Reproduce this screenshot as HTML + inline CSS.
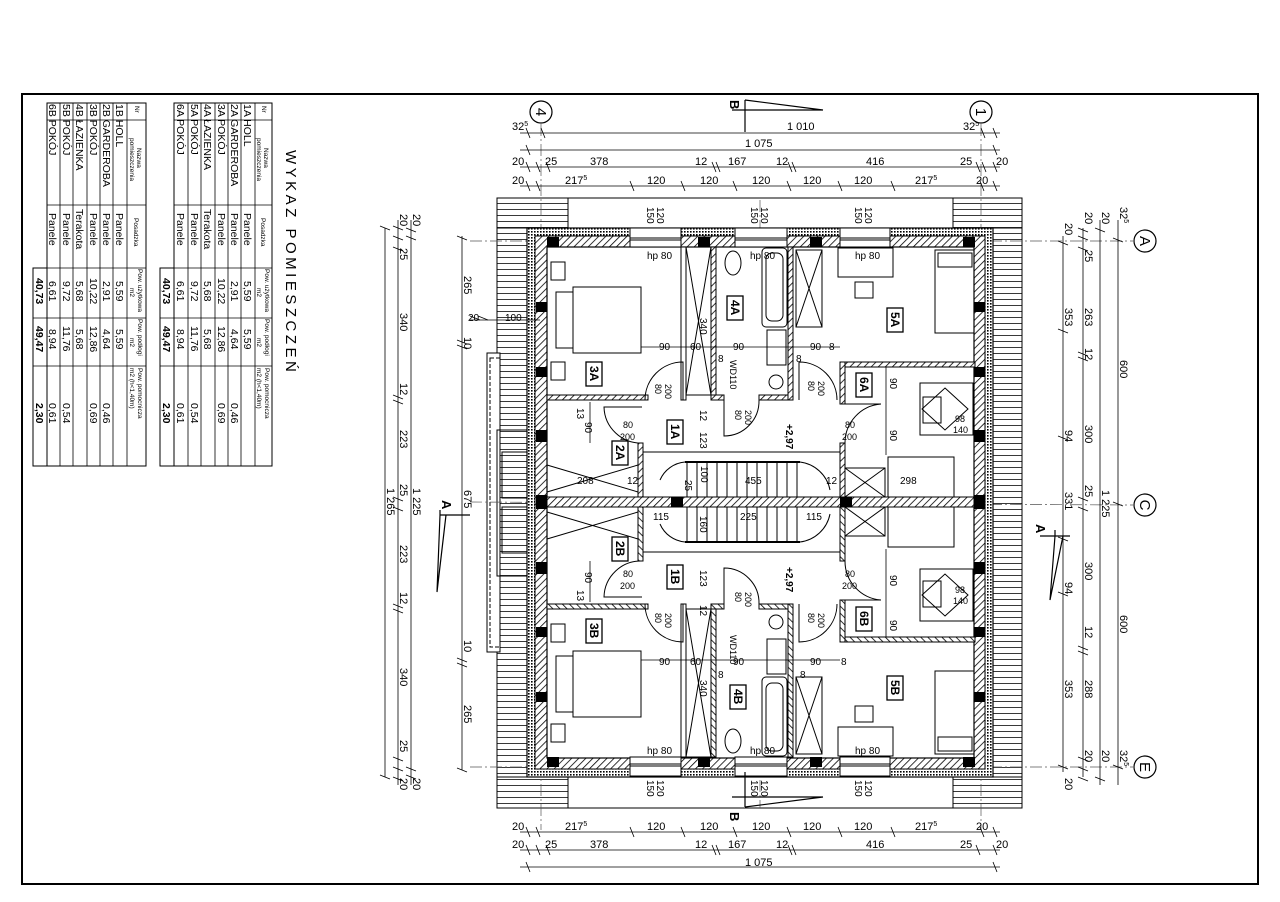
<!DOCTYPE html>
<html><head><meta charset="utf-8"><style>
html,body{margin:0;padding:0;background:#fff;}
svg{display:block;font-family:"Liberation Sans",sans-serif;}
</style></head><body>
<svg width="1280" height="902" viewBox="0 0 1280 902" xmlns="http://www.w3.org/2000/svg">
<defs>
<pattern id="h" width="5" height="5" patternUnits="userSpaceOnUse" patternTransform="rotate(45)"><rect width="5" height="5" fill="#fff"/><line x1="0" y1="0" x2="0" y2="5" stroke="#000" stroke-width="1.6"/></pattern>
<pattern id="r" width="6" height="6" patternUnits="userSpaceOnUse"><rect width="6" height="6" fill="#fff"/><line x1="0" y1="5.5" x2="6" y2="5.5" stroke="#222" stroke-width="0.9"/></pattern>
<pattern id="rv" width="6" height="6" patternUnits="userSpaceOnUse"><rect width="6" height="6" fill="#fff"/><line x1="5.5" y1="0" x2="5.5" y2="6" stroke="#222" stroke-width="0.9"/></pattern>
<pattern id="d" width="3" height="3" patternUnits="userSpaceOnUse"><rect width="3" height="3" fill="#fff"/><rect width="1.6" height="1.6" fill="#000"/></pattern>
</defs>
<rect width="1280" height="902" fill="#fff"/>
<rect x="22" y="94" width="1236" height="790" fill="none" stroke="#000" stroke-width="2"/>

<!-- TITLE -->
<text transform="translate(286,150) rotate(90)" font-size="15" letter-spacing="3.5">WYKAZ POMIESZCZEŃ</text>

<!-- TABLE A -->
<g transform="translate(272,103) rotate(90)" font-size="10.5">
<rect x="0" y="0" width="363" height="98" fill="none" stroke="#000"/>
<rect x="165" y="98" width="198" height="14" fill="none" stroke="#000"/>
<g stroke="#000" stroke-width="0.8">
<line x1="0" y1="17" x2="363" y2="17"/><line x1="0" y1="31" x2="363" y2="31"/><line x1="0" y1="44" x2="363" y2="44"/><line x1="0" y1="57" x2="363" y2="57"/><line x1="0" y1="71" x2="363" y2="71"/><line x1="0" y1="84" x2="363" y2="84"/>
<line x1="17" y1="0" x2="17" y2="98"/><line x1="102" y1="0" x2="102" y2="98"/><line x1="165" y1="0" x2="165" y2="112"/><line x1="215" y1="0" x2="215" y2="112"/><line x1="263" y1="0" x2="263" y2="112"/>
</g>
<g font-size="6.5"><text x="3" y="10">Nr</text><text x="45" y="8">Nazwa</text><text x="35" y="15">pomieszczenia</text><text x="115" y="11">Posadzka</text><text x="166" y="7">Pow. użytkowa</text><text x="185" y="15">m2</text><text x="216" y="7">Pow. podłogi</text><text x="235" y="15">m2</text><text x="265" y="7">Pow. pomocnicza</text><text x="265" y="15">m2 (h&lt;1,40m)</text></g>
<text x="1" y="28">1A HOLL</text><text x="1" y="41">2A GARDEROBA</text><text x="1" y="54">3A POKÓJ</text><text x="1" y="68">4A ŁAZIENKA</text><text x="1" y="81">5A POKÓJ</text><text x="1" y="95">6A POKÓJ</text>
<text x="110" y="28">Panele</text><text x="110" y="41">Panele</text><text x="110" y="54">Panele</text><text x="106" y="68">Terakota</text><text x="110" y="81">Panele</text><text x="110" y="95">Panele</text>
<text x="178" y="28">5,59</text><text x="178" y="41">2,91</text><text x="175" y="54">10,22</text><text x="178" y="68">5,68</text><text x="178" y="81">9,72</text><text x="178" y="95">6,61</text>
<text x="226" y="28">5,59</text><text x="226" y="41">4,64</text><text x="223" y="54">12,86</text><text x="226" y="68">5,68</text><text x="223" y="81">11,76</text><text x="226" y="95">8,94</text>
<text x="300" y="41">0,46</text><text x="300" y="54">0,69</text><text x="300" y="81">0,54</text><text x="300" y="95">0,61</text>
<g font-weight="bold"><text x="175" y="109">40,73</text><text x="223" y="109">49,47</text><text x="300" y="109">2,30</text></g>
</g>

<!-- TABLE B -->
<g transform="translate(146,103) rotate(90)" font-size="10.5">
<rect x="0" y="0" width="363" height="99" fill="none" stroke="#000"/>
<rect x="165" y="99" width="198" height="14" fill="none" stroke="#000"/>
<g stroke="#000" stroke-width="0.8">
<line x1="0" y1="19" x2="363" y2="19"/><line x1="0" y1="33" x2="363" y2="33"/><line x1="0" y1="46" x2="363" y2="46"/><line x1="0" y1="59" x2="363" y2="59"/><line x1="0" y1="73" x2="363" y2="73"/><line x1="0" y1="86" x2="363" y2="86"/>
<line x1="17" y1="0" x2="17" y2="99"/><line x1="102" y1="0" x2="102" y2="99"/><line x1="165" y1="0" x2="165" y2="113"/><line x1="215" y1="0" x2="215" y2="113"/><line x1="263" y1="0" x2="263" y2="113"/>
</g>
<g font-size="6.5"><text x="3" y="11">Nr</text><text x="45" y="9">Nazwa</text><text x="35" y="16">pomieszczenia</text><text x="115" y="12">Posadzka</text><text x="166" y="8">Pow. użytkowa</text><text x="185" y="16">m2</text><text x="216" y="8">Pow. podłogi</text><text x="235" y="16">m2</text><text x="265" y="8">Pow. pomocnicza</text><text x="265" y="16">m2 (h&lt;1,40m)</text></g>
<text x="1" y="30">1B HOLL</text><text x="1" y="43">2B GARDEROBA</text><text x="1" y="56">3B POKÓJ</text><text x="1" y="70">4B ŁAZIENKA</text><text x="1" y="83">5B POKÓJ</text><text x="1" y="97">6B POKÓJ</text>
<text x="110" y="30">Panele</text><text x="110" y="43">Panele</text><text x="110" y="56">Panele</text><text x="106" y="70">Terakota</text><text x="110" y="83">Panele</text><text x="110" y="97">Panele</text>
<text x="178" y="30">5,59</text><text x="178" y="43">2,91</text><text x="175" y="56">10,22</text><text x="178" y="70">5,68</text><text x="178" y="83">9,72</text><text x="178" y="97">6,61</text>
<text x="226" y="30">5,59</text><text x="226" y="43">4,64</text><text x="223" y="56">12,86</text><text x="226" y="70">5,68</text><text x="223" y="83">11,76</text><text x="226" y="97">8,94</text>
<text x="300" y="43">0,46</text><text x="300" y="56">0,69</text><text x="300" y="83">0,54</text><text x="300" y="97">0,61</text>
<g font-weight="bold"><text x="175" y="110">40,73</text><text x="223" y="110">49,47</text><text x="300" y="110">2,30</text></g>
</g>

<!-- ROOF -->
<rect x="497" y="198" width="525" height="610" fill="none" stroke="#000" stroke-width="1"/>
<rect x="497" y="198" width="31" height="610" fill="url(#r)" stroke="#000"/>
<rect x="993" y="198" width="29" height="610" fill="url(#r)" stroke="#000"/>
<rect x="497" y="198" width="71" height="30" fill="url(#r)" stroke="#000"/>
<rect x="953" y="198" width="69" height="30" fill="url(#r)" stroke="#000"/>
<rect x="497" y="777" width="71" height="31" fill="url(#r)" stroke="#000"/>
<rect x="953" y="777" width="69" height="31" fill="url(#r)" stroke="#000"/>
<line x1="568" y1="198" x2="953" y2="198" stroke="#000" stroke-dasharray="5,3"/>
<line x1="568" y1="808" x2="953" y2="808" stroke="#000" stroke-dasharray="5,3"/>
<rect x="487" y="353" width="13" height="299" fill="#fff" stroke="#000"/>
<rect x="490" y="358" width="10" height="289" fill="none" stroke="#000" stroke-dasharray="4,2"/>
<rect x="497" y="430" width="38" height="146" fill="none" stroke="#000"/>
<rect x="502" y="452" width="33" height="46" fill="none" stroke="#000"/>
<rect x="502" y="507" width="33" height="46" fill="none" stroke="#000"/>

<!-- axes -->
<g stroke="#555" stroke-width="0.7" stroke-dasharray="12,3,2,3">
<line x1="541" y1="124" x2="541" y2="830"/><line x1="981" y1="124" x2="981" y2="830"/>
<line x1="760" y1="200" x2="760" y2="808"/>
<line x1="470" y1="241" x2="1133" y2="241"/><line x1="470" y1="502" x2="1133" y2="505"/><line x1="470" y1="767" x2="1133" y2="767"/>
</g>

<!-- OUTER WALL -->
<rect x="527" y="228" width="466" height="549" fill="url(#d)" stroke="#000" stroke-width="1.2"/>
<rect x="535" y="236" width="450" height="533" fill="url(#h)" stroke="#000"/>
<rect x="547" y="247" width="427" height="511" fill="#fff" stroke="#000" stroke-width="1.2"/>
<!-- middle wall -->
<rect x="547" y="497" width="427" height="10" fill="url(#h)" stroke="#000"/>

<g id="half" stroke="#000" fill="none" stroke-width="1">
<!-- windows top -->
<rect x="630" y="228" width="51" height="19" fill="#fff"/><line x1="630" y1="238" x2="681" y2="238"/><line x1="630" y1="240" x2="681" y2="240"/>
<rect x="735" y="228" width="52" height="19" fill="#fff"/><line x1="735" y1="238" x2="787" y2="238"/><line x1="735" y1="240" x2="787" y2="240"/>
<rect x="840" y="228" width="50" height="19" fill="#fff"/><line x1="840" y1="238" x2="890" y2="238"/><line x1="840" y1="240" x2="890" y2="240"/>
<!-- columns -->
<g fill="#000" stroke="none">
<rect x="547" y="237" width="12" height="10"/><rect x="698" y="237" width="12" height="10"/><rect x="810" y="237" width="12" height="10"/><rect x="963" y="237" width="12" height="10"/>
<rect x="536" y="302" width="11" height="10"/><rect x="536" y="367" width="11" height="10"/><rect x="536" y="430" width="11" height="12"/><rect x="536" y="495" width="11" height="14"/>
<rect x="974" y="302" width="11" height="10"/><rect x="974" y="367" width="11" height="10"/><rect x="974" y="430" width="11" height="12"/><rect x="974" y="495" width="11" height="14"/>
<rect x="671" y="497" width="12" height="10"/><rect x="840" y="497" width="12" height="10"/>
</g>
<!-- interior walls -->
<rect x="547" y="395" width="101" height="5" fill="url(#h)"/>
<rect x="681" y="247" width="5" height="153" fill="#fff"/>
<rect x="711" y="247" width="5" height="153" fill="url(#h)"/>
<rect x="711" y="395" width="13" height="5" fill="url(#h)"/>
<rect x="759" y="395" width="34" height="5" fill="url(#h)"/>
<rect x="788" y="247" width="5" height="153" fill="url(#h)"/>
<rect x="840" y="362" width="135" height="5" fill="url(#h)"/>
<rect x="840" y="362" width="5" height="42" fill="url(#h)"/>
<rect x="840" y="443" width="5" height="54" fill="url(#h)"/>
<rect x="638" y="443" width="5" height="54" fill="url(#h)"/>
<!-- closets X -->
<rect x="686" y="247" width="25" height="148"/><line x1="686" y1="247" x2="711" y2="395"/><line x1="711" y1="247" x2="686" y2="395"/>
<rect x="796" y="250" width="26" height="77"/><line x1="796" y1="250" x2="822" y2="327"/><line x1="822" y1="250" x2="796" y2="327"/>
<line x1="547" y1="465" x2="638" y2="492"/><line x1="547" y1="492" x2="638" y2="465"/>
<rect x="845" y="468" width="40" height="29"/><line x1="845" y1="468" x2="885" y2="497"/><line x1="885" y1="468" x2="845" y2="497"/>
<!-- stairs -->
<rect x="643" y="452" width="197" height="45"/>
<line x1="687" y1="462" x2="687" y2="497"/><line x1="697" y1="462" x2="697" y2="497"/><line x1="707" y1="462" x2="707" y2="497"/><line x1="717" y1="462" x2="717" y2="497"/><line x1="727" y1="462" x2="727" y2="497"/><line x1="737" y1="462" x2="737" y2="497"/><line x1="747" y1="462" x2="747" y2="497"/><line x1="757" y1="462" x2="757" y2="497"/><line x1="767" y1="462" x2="767" y2="497"/><line x1="777" y1="462" x2="777" y2="497"/><line x1="787" y1="462" x2="787" y2="497"/><line x1="797" y1="462" x2="797" y2="497"/>
<line x1="685" y1="462" x2="800" y2="462" stroke-width="2"/>
<path d="M660,480 A30,30 0 0 1 685,462 M800,462 A35,35 0 0 1 830,490"/>
<!-- doors -->
<path d="M683,400 L683,362 A38,38 0 0 0 645,400"/>
<path d="M642,407 L604,407 A37,37 0 0 0 642,443"/>
<path d="M724,400 L724,436 A35,35 0 0 0 759,400"/>
<path d="M799,400 L799,362 A38,38 0 0 1 837,400"/>
<path d="M881,404 A39,39 0 0 0 845,443 M845,404 L881,404"/>
<!-- furniture -->
<rect x="573" y="287" width="68" height="66"/><rect x="556" y="292" width="17" height="56"/>
<rect x="551" y="262" width="14" height="18"/><rect x="551" y="362" width="14" height="18"/>
<rect x="838" y="248" width="55" height="29"/><rect x="855" y="282" width="18" height="16"/>
<rect x="935" y="250" width="39" height="83"/><rect x="938" y="253" width="34" height="14"/>
<ellipse cx="733" cy="263" rx="8" ry="12"/>
<rect x="762" y="248" width="25" height="79" rx="4"/><rect x="766" y="253" width="17" height="68" rx="6"/>
<rect x="767" y="330" width="19" height="35"/><circle cx="776" cy="382" r="7"/>
<rect x="920" y="383" width="53" height="52"/><rect x="923" y="397" width="18" height="26"/>
<path d="M945,388 L968,409 L945,430 L922,409 Z"/>
<rect x="888" y="457" width="66" height="40"/>
</g>
<use href="#half" transform="matrix(1 0 0 -1 0 1004)"/>

<!-- room tags (rotated) -->
<g font-size="12" font-weight="bold" fill="#000">
<g stroke="#000" fill="#fff" stroke-width="1.3">
<rect x="586" y="362" width="16" height="24"/><rect x="727" y="296" width="16" height="24"/><rect x="887" y="308" width="16" height="24"/><rect x="667" y="420" width="16" height="24"/><rect x="612" y="441" width="16" height="24"/><rect x="856" y="373" width="16" height="24"/>
<rect x="612" y="537" width="16" height="24"/><rect x="667" y="565" width="16" height="24"/><rect x="586" y="619" width="16" height="24"/><rect x="730" y="685" width="16" height="24"/><rect x="887" y="676" width="16" height="24"/><rect x="856" y="607" width="16" height="24"/>
</g>
<text transform="translate(590,366) rotate(90)">3A</text><text transform="translate(731,300) rotate(90)">4A</text><text transform="translate(891,312) rotate(90)">5A</text><text transform="translate(671,424) rotate(90)">1A</text><text transform="translate(616,445) rotate(90)">2A</text><text transform="translate(860,377) rotate(90)">6A</text>
<text transform="translate(616,541) rotate(90)">2B</text><text transform="translate(671,569) rotate(90)">1B</text><text transform="translate(590,623) rotate(90)">3B</text><text transform="translate(734,689) rotate(90)">4B</text><text transform="translate(891,680) rotate(90)">5B</text><text transform="translate(860,611) rotate(90)">6B</text>
</g>

<!-- inner labels -->
<g font-size="10" fill="#000">
<text x="647" y="259">hp 80</text><text x="750" y="259">hp 80</text><text x="855" y="259">hp 80</text>
<text x="647" y="754">hp 80</text><text x="750" y="754">hp 80</text><text x="855" y="754">hp 80</text>
<text transform="translate(647,207) rotate(90)">150</text><text transform="translate(657,207) rotate(90)">120</text>
<text transform="translate(751,207) rotate(90)">150</text><text transform="translate(761,207) rotate(90)">120</text>
<text transform="translate(855,207) rotate(90)">150</text><text transform="translate(865,207) rotate(90)">120</text>
<text transform="translate(647,780) rotate(90)">150</text><text transform="translate(657,780) rotate(90)">120</text>
<text transform="translate(751,780) rotate(90)">150</text><text transform="translate(761,780) rotate(90)">120</text>
<text transform="translate(855,780) rotate(90)">150</text><text transform="translate(865,780) rotate(90)">120</text>
<text x="505" y="321">100</text><text x="468" y="321">20</text>
<text x="659" y="350">90</text><text x="690" y="350">60</text><text x="733" y="350">90</text><text x="810" y="350">90</text><text x="829" y="350">8</text>
<text x="718" y="362">8</text><text x="796" y="362">8</text>
<text transform="translate(700,318) rotate(90)">340</text>
<text transform="translate(730,360) rotate(90)" font-size="9">WD110</text>
<text transform="translate(655,384) rotate(90)" font-size="9">80</text><text transform="translate(665,384) rotate(90)" font-size="9">200</text>
<text transform="translate(735,410) rotate(90)" font-size="9">80</text><text transform="translate(745,410) rotate(90)" font-size="9">200</text>
<text transform="translate(808,381) rotate(90)" font-size="9">80</text><text transform="translate(818,381) rotate(90)" font-size="9">200</text>
<text x="623" y="428" font-size="9">80</text><text x="620" y="440" font-size="9">200</text>
<text x="845" y="428" font-size="9">80</text><text x="842" y="440" font-size="9">200</text>
<text transform="translate(577,408) rotate(90)">13</text><text transform="translate(585,422) rotate(90)">90</text>
<text transform="translate(700,410) rotate(90)">12</text><text transform="translate(700,432) rotate(90)">123</text>
<text transform="translate(786,424) rotate(90)" font-weight="bold">+2,97</text>
<text transform="translate(890,378) rotate(90)">90</text><text transform="translate(890,430) rotate(90)">90</text>
<text x="955" y="422" font-size="9">98</text><text x="953" y="433" font-size="9">140</text>
<text x="577" y="484">208</text><text x="627" y="484">12</text><text transform="translate(701,466) rotate(90)">100</text><text x="745" y="484">455</text><text x="826" y="484">12</text><text x="900" y="484">298</text>
<text transform="translate(685,480) rotate(90)">25</text>
<text x="653" y="520">115</text><text x="740" y="520">225</text><text x="806" y="520">115</text><text transform="translate(700,516) rotate(90)">160</text>
<text transform="translate(577,590) rotate(90)">13</text><text transform="translate(585,572) rotate(90)">90</text>
<text transform="translate(700,570) rotate(90)">123</text><text transform="translate(700,605) rotate(90)">12</text>
<text transform="translate(786,567) rotate(90)" font-weight="bold">+2,97</text>
<text x="623" y="577" font-size="9">80</text><text x="620" y="589" font-size="9">200</text>
<text x="845" y="577" font-size="9">80</text><text x="842" y="589" font-size="9">200</text>
<text transform="translate(735,592) rotate(90)" font-size="9">80</text><text transform="translate(745,592) rotate(90)" font-size="9">200</text>
<text transform="translate(655,613) rotate(90)" font-size="9">80</text><text transform="translate(665,613) rotate(90)" font-size="9">200</text>
<text transform="translate(808,613) rotate(90)" font-size="9">80</text><text transform="translate(818,613) rotate(90)" font-size="9">200</text>
<text transform="translate(890,575) rotate(90)">90</text><text transform="translate(890,620) rotate(90)">90</text>
<text x="955" y="593" font-size="9">98</text><text x="953" y="604" font-size="9">140</text>
<text transform="translate(730,635) rotate(90)" font-size="9">WD110</text>
<text x="659" y="665">90</text><text x="690" y="665">60</text><text x="733" y="665">90</text><text x="810" y="665">90</text><text x="841" y="665">8</text>
<text x="718" y="678">8</text><text x="800" y="678">8</text>
<text transform="translate(700,680) rotate(90)">340</text>
</g>
<g stroke="#000" stroke-width="0.8">
<line x1="641" y1="347" x2="840" y2="347"/><line x1="641" y1="660" x2="840" y2="660"/>
<line x1="590" y1="402" x2="590" y2="443"/><line x1="590" y1="561" x2="590" y2="602"/>
<line x1="886" y1="367" x2="886" y2="455"/><line x1="886" y1="549" x2="886" y2="637"/>
</g>

<!-- DIMENSIONS -->
<g stroke="#000" stroke-width="0.8" fill="none">
<line x1="520" y1="133" x2="1000" y2="133"/><line x1="520" y1="150" x2="1000" y2="150"/><line x1="520" y1="167" x2="1000" y2="167"/><line x1="520" y1="186" x2="1000" y2="186"/>
<line x1="520" y1="832" x2="1000" y2="832"/><line x1="520" y1="850" x2="1000" y2="850"/><line x1="520" y1="867" x2="1000" y2="867"/>
<line x1="385" y1="228" x2="385" y2="777"/><line x1="398" y1="220" x2="398" y2="785"/><line x1="411" y1="220" x2="411" y2="785"/><line x1="462" y1="236" x2="462" y2="770"/>
<line x1="1063" y1="236" x2="1063" y2="772"/><line x1="1083" y1="228" x2="1083" y2="777"/><line x1="1100" y1="220" x2="1100" y2="785"/><line x1="1118" y1="220" x2="1118" y2="785"/>
<path d="M526,128 l4,10 M541,128 l4,10 M981,128 l4,10 M993,128 l4,10 M526,145 l4,10 M993,145 l4,10 M526,162 l4,10 M536,162 l4,10 M546,162 l4,10 M712,162 l4,10 M716,162 l4,10 M788,162 l4,10 M792,162 l4,10 M976,162 l4,10 M982,162 l4,10 M993,162 l4,10 M526,181 l4,10 M536,181 l4,10 M630,181 l4,10 M681,181 l4,10 M733,181 l4,10 M787,181 l4,10 M838,181 l4,10 M891,181 l4,10 M980,181 l4,10 M993,181 l4,10"/>
<path d="M526,827 l4,10 M536,827 l4,10 M630,827 l4,10 M681,827 l4,10 M733,827 l4,10 M787,827 l4,10 M838,827 l4,10 M891,827 l4,10 M980,827 l4,10 M993,827 l4,10 M526,845 l4,10 M536,845 l4,10 M546,845 l4,10 M712,845 l4,10 M716,845 l4,10 M788,845 l4,10 M792,845 l4,10 M976,845 l4,10 M993,845 l4,10 M526,862 l4,10 M993,862 l4,10"/>
<path d="M380,226 l10,4 M380,775 l10,4 M393,226 l10,4 M393,236 l10,4 M393,247 l10,4 M393,395 l10,4 M393,400 l10,4 M393,497 l10,4 M393,507 l10,4 M393,604 l10,4 M393,609 l10,4 M393,757 l10,4 M393,767 l10,4 M393,777 l10,4 M406,228 l10,4 M406,236 l10,4 M406,767 l10,4 M406,775 l10,4 M457,236 l10,4 M457,340 l10,4 M457,345 l10,4 M457,658 l10,4 M457,663 l10,4 M457,768 l10,4 M470,316 l10,4 M478,316 l10,4"/>
<path d="M1058,241 l10,4 M1058,329 l10,4 M1058,436 l10,4 M1058,537 l10,4 M1058,592 l10,4 M1058,765 l10,4 M1078,228 l10,4 M1078,236 l10,4 M1078,247 l10,4 M1078,352 l10,4 M1078,357 l10,4 M1078,497 l10,4 M1078,507 l10,4 M1078,646 l10,4 M1078,651 l10,4 M1078,757 l10,4 M1078,767 l10,4 M1078,777 l10,4 M1095,228 l10,4 M1095,777 l10,4 M1113,238 l10,4 M1113,502 l10,4 M1113,765 l10,4"/>
<line x1="470" y1="320" x2="540" y2="320"/>
</g>
<g font-size="11" fill="#000">
<text x="512" y="130">32<tspan font-size="7" dy="-4">5</tspan></text><text x="787" y="130">1 010</text><text x="963" y="130">32<tspan font-size="7" dy="-4">5</tspan></text>
<text x="745" y="147">1 075</text>
<text x="512" y="165">20</text><text x="545" y="165">25</text><text x="590" y="165">378</text><text x="695" y="165">12</text><text x="728" y="165">167</text><text x="776" y="165">12</text><text x="866" y="165">416</text><text x="960" y="165">25</text><text x="996" y="165">20</text>
<text x="512" y="184">20</text><text x="565" y="184">217<tspan font-size="7" dy="-4">5</tspan></text><tspan/><text x="647" y="184">120</text><text x="700" y="184">120</text><text x="752" y="184">120</text><text x="803" y="184">120</text><text x="854" y="184">120</text><text x="915" y="184">217<tspan font-size="7" dy="-4">5</tspan></text><text x="976" y="184">20</text>
<text x="512" y="830">20</text><text x="565" y="830">217<tspan font-size="7" dy="-4">5</tspan></text><text x="647" y="830">120</text><text x="700" y="830">120</text><text x="752" y="830">120</text><text x="803" y="830">120</text><text x="854" y="830">120</text><text x="915" y="830">217<tspan font-size="7" dy="-4">5</tspan></text><text x="976" y="830">20</text>
<text x="512" y="848">20</text><text x="545" y="848">25</text><text x="590" y="848">378</text><text x="695" y="848">12</text><text x="728" y="848">167</text><text x="776" y="848">12</text><text x="866" y="848">416</text><text x="960" y="848">25</text><text x="996" y="848">20</text>
<text x="745" y="866">1 075</text>
<!-- left rotated -->
<text transform="translate(400,214) rotate(90)">20</text><text transform="translate(413,214) rotate(90)">20</text>
<text transform="translate(400,248) rotate(90)">25</text><text transform="translate(400,313) rotate(90)">340</text><text transform="translate(400,383) rotate(90)">12</text><text transform="translate(400,430) rotate(90)">223</text><text transform="translate(400,484) rotate(90)">25</text>
<text transform="translate(413,488) rotate(90)">1 225</text><text transform="translate(387,488) rotate(90)">1 265</text>
<text transform="translate(400,545) rotate(90)">223</text><text transform="translate(400,592) rotate(90)">12</text><text transform="translate(400,668) rotate(90)">340</text><text transform="translate(400,740) rotate(90)">25</text>
<text transform="translate(400,778) rotate(90)">20</text><text transform="translate(413,778) rotate(90)">20</text>
<text transform="translate(464,276) rotate(90)">265</text><text transform="translate(464,337) rotate(90)">10</text><text transform="translate(464,490) rotate(90)">675</text><text transform="translate(464,640) rotate(90)">10</text><text transform="translate(464,705) rotate(90)">265</text>
<!-- right rotated -->
<text transform="translate(1085,212) rotate(90)">20</text><text transform="translate(1102,212) rotate(90)">20</text><text transform="translate(1120,207) rotate(90)">32<tspan font-size="7" dy="-4">5</tspan></text>
<text transform="translate(1065,223) rotate(90)">20</text><text transform="translate(1085,250) rotate(90)">25</text>
<text transform="translate(1065,308) rotate(90)">353</text><text transform="translate(1085,308) rotate(90)">263</text><text transform="translate(1120,360) rotate(90)">600</text>
<text transform="translate(1085,348) rotate(90)">12</text><text transform="translate(1065,430) rotate(90)">94</text><text transform="translate(1085,425) rotate(90)">300</text>
<text transform="translate(1085,485) rotate(90)">25</text><text transform="translate(1065,492) rotate(90)">331</text><text transform="translate(1102,490) rotate(90)">1 225</text>
<text transform="translate(1085,562) rotate(90)">300</text><text transform="translate(1065,582) rotate(90)">94</text><text transform="translate(1085,626) rotate(90)">12</text><text transform="translate(1120,615) rotate(90)">600</text>
<text transform="translate(1065,680) rotate(90)">353</text><text transform="translate(1085,680) rotate(90)">288</text>
<text transform="translate(1085,750) rotate(90)">20</text><text transform="translate(1102,750) rotate(90)">20</text><text transform="translate(1120,750) rotate(90)">32<tspan font-size="7" dy="-4">5</tspan></text>
<text transform="translate(1065,778) rotate(90)">20</text>
</g>

<!-- axis circles -->
<g fill="#fff" stroke="#000" stroke-width="1.2">
<circle cx="541" cy="112" r="11"/><circle cx="981" cy="112" r="11"/>
<circle cx="1145" cy="241" r="11"/><circle cx="1145" cy="505" r="11"/><circle cx="1145" cy="767" r="11"/>
</g>
<g font-size="15" fill="#000" text-anchor="middle">
<text transform="translate(536,112) rotate(90)">4</text><text transform="translate(976,112) rotate(90)">1</text>
<text transform="translate(1140,241) rotate(90)">A</text><text transform="translate(1140,505) rotate(90)">C</text><text transform="translate(1140,767) rotate(90)">E</text>
</g>

<!-- section markers -->
<g stroke="#000" stroke-width="1.2" fill="none">
<path d="M745,100 L745,132 M732,110 L823,110 M745,100 L823,110"/>
<path d="M745,785 L745,820 M732,795 L823,795 M745,785 L823,795" transform="matrix(1 0 0 -1 0 1592)"/>
<path d="M440,515 L470,515 M440,510 L440,515 L437,592 L446,515"/>
<path d="M1040,536 L1070,536 M1055,530 L1055,536 L1050,600 L1063,536"/>
</g>
<g font-size="13" font-weight="bold" fill="#000">
<text transform="translate(730,100) rotate(90)">B</text><text transform="translate(730,812) rotate(90)">B</text>
<text transform="translate(442,500) rotate(90)">A</text><text transform="translate(1036,524) rotate(90)">A</text>
</g>
</svg>
</body></html>
